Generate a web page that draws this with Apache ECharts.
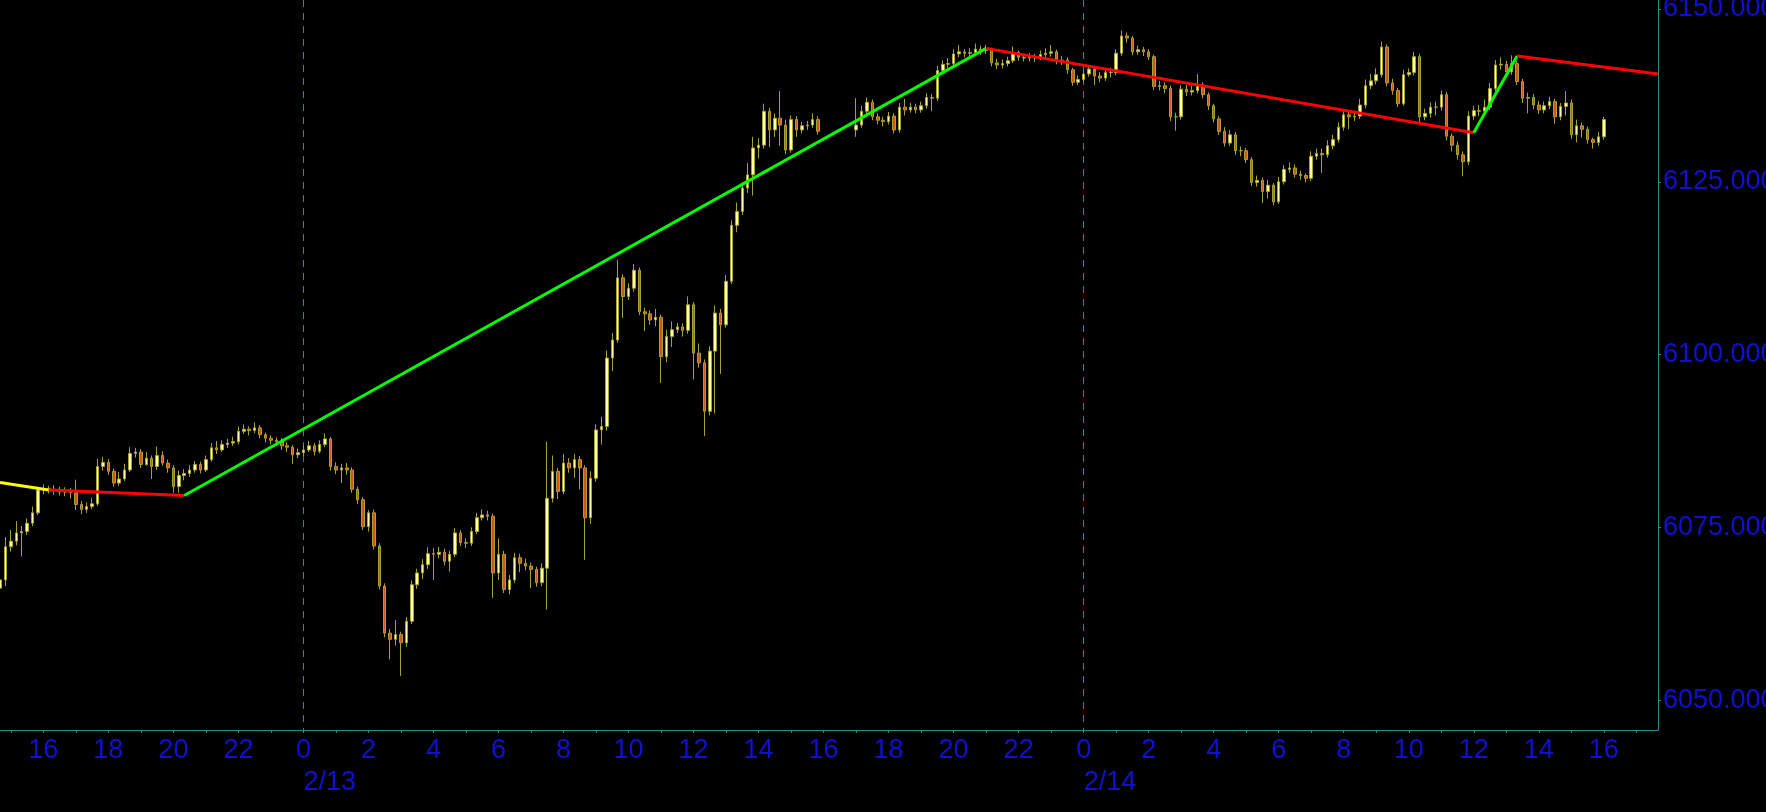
<!DOCTYPE html>
<html>
<head>
<meta charset="utf-8">
<script src="https://cdn.jsdelivr.net/npm/echarts@6/dist/echarts.min.js"></script>
<style>
html,body{margin:0;padding:0;background:#000;}
#chart{width:1766px;height:812px;}
</style>
</head>
<body>
<div id="chart"></div>
<script>
// 10-minute slots from 2/12 14:40 to 2/14 17:40
const slotStartDay = 12, slotStartMinute = 14 * 60 + 40, slotMinutes = 10, slotCount = 307;
const yTickValues = [6050, 6075, 6100, 6125, 6150];

const opens = [
6066.2,6067.4,6072.2,6073.0,6074.2,6074.4,6075.6,6077.1,6080.4,6080.6,
6080.3,6080.5,6080.1,6080.3,6080.0,6078.3,6077.6,6078.0,6078.4,6083.8,
6084.4,6083.1,6081.4,6082.0,6083.3,6085.7,6085.9,6084.1,6085.0,6083.8,
6085.4,6084.3,6083.6,6080.9,6082.5,6082.8,6083.3,6084.1,6083.3,6084.8,
6086.5,6086.2,6087.0,6087.2,6087.4,6088.9,6089.2,6089.0,6089.4,6088.4,
6087.9,6087.6,6087.4,6086.8,6086.6,6085.5,6085.8,6086.2,6086.8,6086.0,
6087.0,6087.8,6083.8,6083.3,6083.6,6083.3,6080.5,6079.0,6075.1,6077.1,
6072.3,6066.5,6059.7,6058.8,6059.5,6058.3,6061.4,6066.7,6068.4,6069.6,
6071.2,6071.1,6071.4,6070.1,6071.1,6074.2,6072.8,6072.7,6074.4,6076.4,
6076.8,6076.6,6068.4,6071.1,6066.0,6067.4,6070.6,6069.8,6069.4,6068.9,
6067.0,6069.1,6079.2,6083.1,6080.2,6084.3,6083.6,6084.8,6083.6,6076.4,
6082.1,6089.1,6089.6,6099.5,6102.1,6111.1,6108.4,6109.6,6112.2,6106.2,
6105.9,6105.0,6105.4,6099.7,6102.6,6103.6,6104.0,6103.5,6107.2,6100.2,
6098.8,6091.8,6100.5,6106.0,6104.3,6110.6,6118.7,6120.7,6124.1,6126.0,
6129.9,6130.3,6135.2,6132.5,6134.2,6133.2,6129.6,6134.0,6132.5,6133.1,
6133.2,6134.0,null,null,null,null,null,null,6132.5,6133.2,
6135.2,6136.5,6134.4,6133.9,6133.7,6134.5,6132.5,6135.8,6135.4,6135.8,
6135.4,6136.0,6137.2,6137.1,6141.1,6142.0,6142.1,6143.5,6143.8,6143.6,
6143.7,6144.2,6144.0,6144.1,6142.2,6141.9,6142.1,6142.5,6143.7,6143.0,
6142.9,6143.0,6142.9,6143.4,6143.6,6143.8,6142.5,6142.6,6141.2,6139.4,
6139.8,6140.6,6141.3,6140.3,6140.0,6140.8,6140.8,6143.6,6146.1,6145.8,
6143.8,6144.1,6143.8,6143.1,6138.8,6138.9,6138.5,6134.4,6134.4,6138.4,
6138.0,6138.2,6139.0,6137.6,6136.0,6134.1,6132.3,6130.6,6131.8,6129.5,
6129.5,6128.2,6124.9,6125.2,6123.6,6124.5,6122.1,6125.0,6126.8,6127.0,
6126.1,6125.9,6125.5,6128.7,6129.1,6128.9,6130.2,6131.1,6132.9,6134.7,
6134.4,6134.5,6136.1,6138.9,6139.6,6140.5,6144.5,6139.3,6138.2,6136.3,
6140.5,6140.8,6143.1,6134.4,6134.9,6135.8,6135.8,6137.6,6131.6,6130.3,
6128.9,6127.9,6134.5,6135.3,6135.2,6135.8,6138.5,6141.9,6142.0,6140.9,
6142.1,6139.5,6137.1,6137.2,6136.1,6135.4,6136.0,6136.6,6134.4,6135.9,
6136.4,6131.8,6133.1,6132.6,6131.1,6130.7,6131.5
];
const closes = [
6067.4,6072.2,6073.0,6074.2,6074.4,6075.6,6077.1,6080.4,6080.6,6080.3,
6080.5,6080.1,6080.3,6080.0,6078.3,6077.6,6078.0,6078.4,6083.8,6084.4,
6083.1,6081.4,6082.0,6083.3,6085.7,6085.9,6084.1,6085.0,6083.8,6085.4,
6084.3,6083.6,6080.9,6082.5,6082.8,6083.3,6084.1,6083.3,6084.8,6086.5,
6086.2,6087.0,6087.2,6087.4,6088.9,6089.2,6089.0,6089.4,6088.4,6087.9,
6087.6,6087.4,6086.8,6086.6,6085.5,6085.8,6086.2,6086.8,6086.0,6087.0,
6087.8,6083.8,6083.3,6083.6,6083.3,6080.5,6079.0,6075.1,6077.1,6072.3,
6066.5,6059.7,6058.8,6059.5,6058.3,6061.4,6066.7,6068.4,6069.6,6071.2,
6071.1,6071.4,6070.1,6071.1,6074.2,6072.8,6072.7,6074.4,6076.4,6076.8,
6076.6,6068.4,6071.1,6066.0,6067.4,6070.6,6069.8,6069.4,6068.9,6067.0,
6069.1,6079.2,6083.1,6080.2,6084.3,6083.6,6084.8,6083.6,6076.4,6082.1,
6089.1,6089.6,6099.5,6102.1,6111.1,6108.4,6109.6,6112.2,6106.2,6105.9,
6105.0,6105.4,6099.7,6102.6,6103.6,6104.0,6103.5,6107.2,6100.2,6098.8,
6091.8,6100.5,6106.0,6104.3,6110.6,6118.7,6120.7,6124.1,6126.0,6129.9,
6130.3,6135.2,6132.5,6134.2,6133.2,6129.6,6134.0,6132.5,6133.1,6133.2,
6134.0,6132.3,null,null,null,null,null,null,6133.2,6135.2,
6136.5,6134.4,6133.9,6133.7,6134.5,6132.5,6135.8,6135.4,6135.8,6135.4,
6136.0,6137.2,6137.1,6141.1,6142.0,6142.1,6143.5,6143.8,6143.6,6143.7,
6144.2,6144.0,6144.1,6142.2,6141.9,6142.1,6142.5,6143.7,6143.0,6142.9,
6143.0,6142.9,6143.4,6143.6,6143.8,6142.5,6142.6,6141.2,6139.4,6139.8,
6140.6,6141.3,6140.3,6140.0,6140.8,6140.8,6143.6,6146.1,6145.8,6143.8,
6144.1,6143.8,6143.1,6138.8,6138.9,6138.5,6134.4,6134.4,6138.4,6138.0,
6138.2,6139.0,6137.6,6136.0,6134.1,6132.3,6130.6,6131.8,6129.5,6129.5,
6128.2,6124.9,6125.2,6123.6,6124.5,6122.1,6125.0,6126.8,6127.0,6126.1,
6125.9,6125.5,6128.7,6129.1,6128.9,6130.2,6131.1,6132.9,6134.7,6134.4,
6134.5,6136.1,6138.9,6139.6,6140.5,6144.5,6139.3,6138.2,6136.3,6140.5,
6140.8,6143.1,6134.4,6134.9,6135.8,6135.8,6137.6,6131.6,6130.3,6128.9,
6127.9,6134.5,6135.3,6135.2,6135.8,6138.5,6141.9,6142.0,6140.9,6142.1,
6139.5,6137.1,6137.2,6136.1,6135.4,6136.0,6136.6,6134.4,6135.9,6136.4,
6131.8,6133.1,6132.6,6131.1,6130.7,6131.5,6134.0
];
const lows = [
6064.8,6066.5,6071.5,6072.4,6070.8,6073.9,6075.2,6076.8,6079.8,6079.9,
6079.7,6079.6,6079.5,6079.2,6077.5,6076.9,6077.1,6077.6,6078.1,6083.2,
6082.6,6080.9,6081.0,6081.7,6083.0,6085.1,6083.6,6083.9,6082.0,6083.3,
6083.9,6082.9,6080.0,6080.0,6081.8,6082.3,6082.9,6082.8,6083.0,6084.5,
6085.6,6085.9,6086.5,6086.8,6087.0,6088.5,6088.3,6088.6,6087.9,6087.3,
6087.0,6086.8,6086.2,6085.9,6084.2,6085.0,6085.3,6085.9,6085.4,6085.7,
6086.6,6083.2,6082.7,6081.4,6082.6,6080.0,6078.4,6074.6,6074.4,6071.8,
6066.0,6059.1,6055.9,6057.9,6053.5,6057.7,6061.0,6066.1,6067.5,6069.0,
6067.4,6070.5,6069.5,6068.6,6070.7,6072.3,6072.0,6072.3,6074.0,6076.0,
6076.0,6064.8,6067.4,6065.5,6065.3,6067.0,6068.5,6068.8,6066.2,6066.4,
6066.5,6063.1,6078.6,6079.1,6079.8,6082.9,6082.2,6080.5,6070.3,6075.5,
6081.6,6087.0,6089.0,6097.6,6101.7,6105.3,6107.9,6109.1,6105.7,6103.4,
6104.3,6104.1,6095.9,6098.9,6101.1,6103.1,6102.6,6103.0,6096.4,6098.1,
6088.2,6091.2,6091.5,6097.2,6103.9,6110.2,6117.7,6120.2,6123.4,6123.0,
6128.4,6129.8,6130.0,6131.5,6130.2,6129.0,6129.2,6131.5,6132.0,6132.5,
6132.8,6131.8,null,null,null,null,null,null,6131.5,6132.8,
6134.8,6133.9,6133.3,6133.0,6133.3,6132.0,6132.1,6134.6,6135.0,6134.9,
6135.0,6135.6,6135.2,6136.7,6140.6,6141.4,6141.8,6143.0,6143.0,6143.1,
6143.3,6143.4,6143.5,6141.7,6141.3,6141.4,6141.7,6142.2,6142.5,6142.4,
6142.4,6142.3,6142.6,6142.9,6143.1,6142.0,6141.9,6140.6,6138.9,6139.0,
6139.4,6140.2,6139.0,6139.4,6139.6,6140.1,6140.4,6143.2,6145.1,6143.3,
6143.4,6143.2,6142.6,6138.3,6138.2,6137.8,6133.8,6132.4,6134.0,6137.4,
6137.5,6137.8,6137.1,6135.4,6133.6,6131.8,6130.1,6130.2,6128.9,6128.7,
6127.7,6124.4,6124.3,6121.9,6122.6,6121.6,6121.8,6124.6,6126.3,6125.6,
6125.3,6124.9,6125.1,6128.2,6126.3,6128.5,6129.7,6130.7,6132.4,6132.6,
6133.8,6134.1,6135.6,6138.4,6139.1,6140.1,6138.8,6137.6,6135.8,6136.0,
6140.2,6140.4,6133.6,6133.9,6134.3,6134.6,6135.3,6131.0,6129.4,6128.2,
6125.8,6127.4,6134.0,6134.5,6134.7,6135.4,6138.1,6141.2,6140.2,6140.5,
6139.0,6136.4,6134.9,6135.5,6134.8,6134.9,6135.5,6133.4,6133.9,6134.6,
6131.2,6130.7,6131.4,6130.5,6129.8,6130.2,6131.1
];
const highs = [
6068.0,6073.6,6074.6,6075.9,6075.2,6076.3,6078.0,6080.9,6081.2,6081.0,
6081.1,6080.9,6080.8,6080.7,6081.9,6078.8,6078.6,6079.3,6084.9,6085.2,
6084.9,6083.5,6083.0,6084.2,6086.6,6086.5,6086.3,6085.9,6085.4,6086.7,
6086.0,6084.8,6084.0,6083.2,6083.4,6084.0,6084.6,6084.5,6085.4,6087.2,
6087.5,6087.6,6087.8,6088.1,6089.6,6089.9,6089.6,6090.2,6089.8,6088.7,
6088.3,6088.0,6087.9,6087.3,6086.9,6086.4,6086.9,6087.5,6087.2,6087.6,
6088.6,6088.1,6084.4,6084.2,6084.3,6083.7,6080.9,6079.4,6077.5,6077.6,
6072.7,6066.9,6060.3,6061.6,6059.9,6062.0,6067.3,6069.0,6070.4,6072.1,
6072.0,6072.2,6071.9,6071.6,6074.9,6074.6,6073.4,6075.0,6077.1,6077.6,
6077.4,6077.0,6073.4,6071.6,6068.1,6071.3,6071.2,6070.5,6069.9,6069.3,
6069.8,6087.4,6085.4,6083.6,6085.6,6085.0,6085.6,6085.3,6084.0,6083.1,
6089.9,6091.0,6100.6,6103.1,6113.7,6111.6,6110.3,6113.1,6112.6,6106.8,
6106.4,6106.6,6105.8,6103.6,6104.8,6104.6,6104.5,6108.4,6107.6,6101.6,
6099.3,6101.2,6107.1,6106.6,6111.5,6119.4,6122.0,6124.9,6127.7,6131.5,
6131.3,6136.3,6135.7,6134.9,6138.1,6134.0,6134.6,6134.5,6133.7,6133.8,
6134.9,6134.5,null,null,null,null,null,null,6137.1,6136.0,
6137.2,6136.9,6134.9,6134.4,6135.1,6134.9,6136.4,6137.0,6136.4,6136.3,
6136.6,6137.8,6137.7,6141.8,6142.6,6142.9,6144.2,6144.8,6144.2,6144.3,
6145.0,6144.7,6144.8,6144.4,6142.8,6142.7,6143.1,6144.6,6144.0,6143.5,
6143.6,6143.5,6144.0,6144.3,6144.8,6144.1,6143.2,6143.0,6141.5,6140.4,
6141.2,6141.9,6141.6,6140.9,6141.4,6141.5,6144.2,6146.9,6146.6,6146.1,
6144.7,6144.5,6144.2,6143.4,6139.6,6139.4,6138.9,6135.0,6139.0,6139.0,
6138.9,6140.6,6139.4,6137.9,6136.3,6134.5,6132.9,6132.5,6132.2,6130.1,
6129.9,6128.6,6125.9,6125.6,6125.3,6124.8,6125.7,6127.4,6127.8,6127.5,
6126.6,6126.2,6129.4,6129.8,6129.8,6131.0,6131.8,6133.6,6135.5,6135.2,
6135.3,6137.0,6139.8,6140.6,6141.4,6145.3,6144.9,6139.9,6138.6,6141.2,
6141.4,6143.8,6143.5,6135.6,6136.5,6136.6,6138.2,6138.0,6132.0,6130.8,
6129.4,6135.2,6136.0,6136.1,6136.9,6139.3,6142.6,6143.0,6142.5,6143.3,
6142.5,6139.9,6137.9,6137.7,6136.7,6136.6,6137.3,6137.0,6136.4,6138.1,
6136.9,6134.0,6133.6,6133.0,6131.4,6132.2,6134.4
];

// trend (zigzag) pivots
const pivotTimes  = ['2/12 14:40','2/12 16:10','2/12 20:20','2/13 21:00','2/14 12:00','2/14 13:20','2/14 17:40'];
const pivotValues = [6081.5, 6080.4, 6079.6, 6144.3, 6132.1, 6143.2, 6140.6];
const segmentColors = ['#ffff00','#ff0000','#00ff00','#ff0000','#00ff00','#ff0000'];

function pad(n){ return (n < 10 ? '0' : '') + n; }
const categories = [];
for (let k = 0; k < slotCount; k++) {
  const t = slotStartMinute + slotMinutes * k;
  const d = slotStartDay + Math.floor(t / 1440);
  const m = t % 1440;
  categories.push('2/' + d + ' ' + pad(Math.floor(m / 60)) + ':' + pad(m % 60));
}
function parts(v){
  const sp = v.split(' ');
  const hm = sp[1].split(':');
  return {date: sp[0], h: +hm[0], m: +hm[1]};
}

const candleData = opens.map((o, i) => o === null ? '-' : [o, closes[i], lows[i], highs[i]]);

const BLUE = '#1010d4';
const TEAL = '#2e8a8a';
const FONT = '"Liberation Sans", Arial, sans-serif';

const lineSeries = segmentColors.map((c, s) => ({
  type: 'line',
  data: [[pivotTimes[s], pivotValues[s]], [pivotTimes[s + 1], pivotValues[s + 1]]],
  symbol: 'none',
  lineStyle: {color: c, width: 3},
  z: 5,
  animation: false
}));

const chart = echarts.init(document.getElementById('chart'));
chart.setOption({
  backgroundColor: '#000',
  animation: false,
  grid: {left: 0, right: 108, top: 0, bottom: 82, containLabel: false, outerBoundsMode: 'none'},
  xAxis: [{
    type: 'category',
    data: categories,
    boundaryGap: false,
    axisLine: {show: true, lineStyle: {color: TEAL, width: 1}},
    axisTick: {show: true, length: 3, lineStyle: {color: TEAL},
      interval: (i, v) => parts(v).m === 0},
    axisLabel: {
      interval: (i, v) => { const p = parts(v); return p.m === 0 && p.h % 2 === 0; },
      formatter: v => String(parts(v).h),
      color: BLUE, fontFamily: FONT, fontSize: 27, margin: 7
    },
    splitLine: {show: true,
      interval: (i, v) => { const p = parts(v); return p.m === 0 && p.h === 0; },
      lineStyle: {color: TEAL, type: [7, 6], width: 1}}
  }, {
    type: 'category',
    data: categories,
    boundaryGap: false,
    position: 'bottom',
    offset: 32,
    axisLine: {show: false},
    axisTick: {show: false},
    splitLine: {show: false},
    axisLabel: {
      interval: (i, v) => { const p = parts(v); return p.m === 0 && p.h === 0; },
      formatter: v => parts(v).date,
      align: 'left',
      color: BLUE, fontFamily: FONT, fontSize: 27, margin: 7
    }
  }],
  yAxis: {
    type: 'value',
    position: 'right',
    min: 6045.68,
    max: 6151.3,
    scale: true,
    axisLine: {show: true, lineStyle: {color: TEAL, width: 1}},
    axisTick: {show: true, length: 3, lineStyle: {color: TEAL}, customValues: yTickValues},
    axisLabel: {customValues: yTickValues, formatter: v => v.toFixed(3),
      color: BLUE, fontFamily: FONT, fontSize: 27, margin: 5},
    splitLine: {show: false}
  },
  series: [{
    type: 'candlestick',
    data: candleData,
    barWidth: 3,
    itemStyle: {
      color: '#ffffa6',
      color0: '#d2561c',
      borderColor: '#a8a032',
      borderColor0: '#a8a032',
      borderWidth: 1
    },
    z: 2
  }].concat(lineSeries)
});
</script>
</body>
</html>
